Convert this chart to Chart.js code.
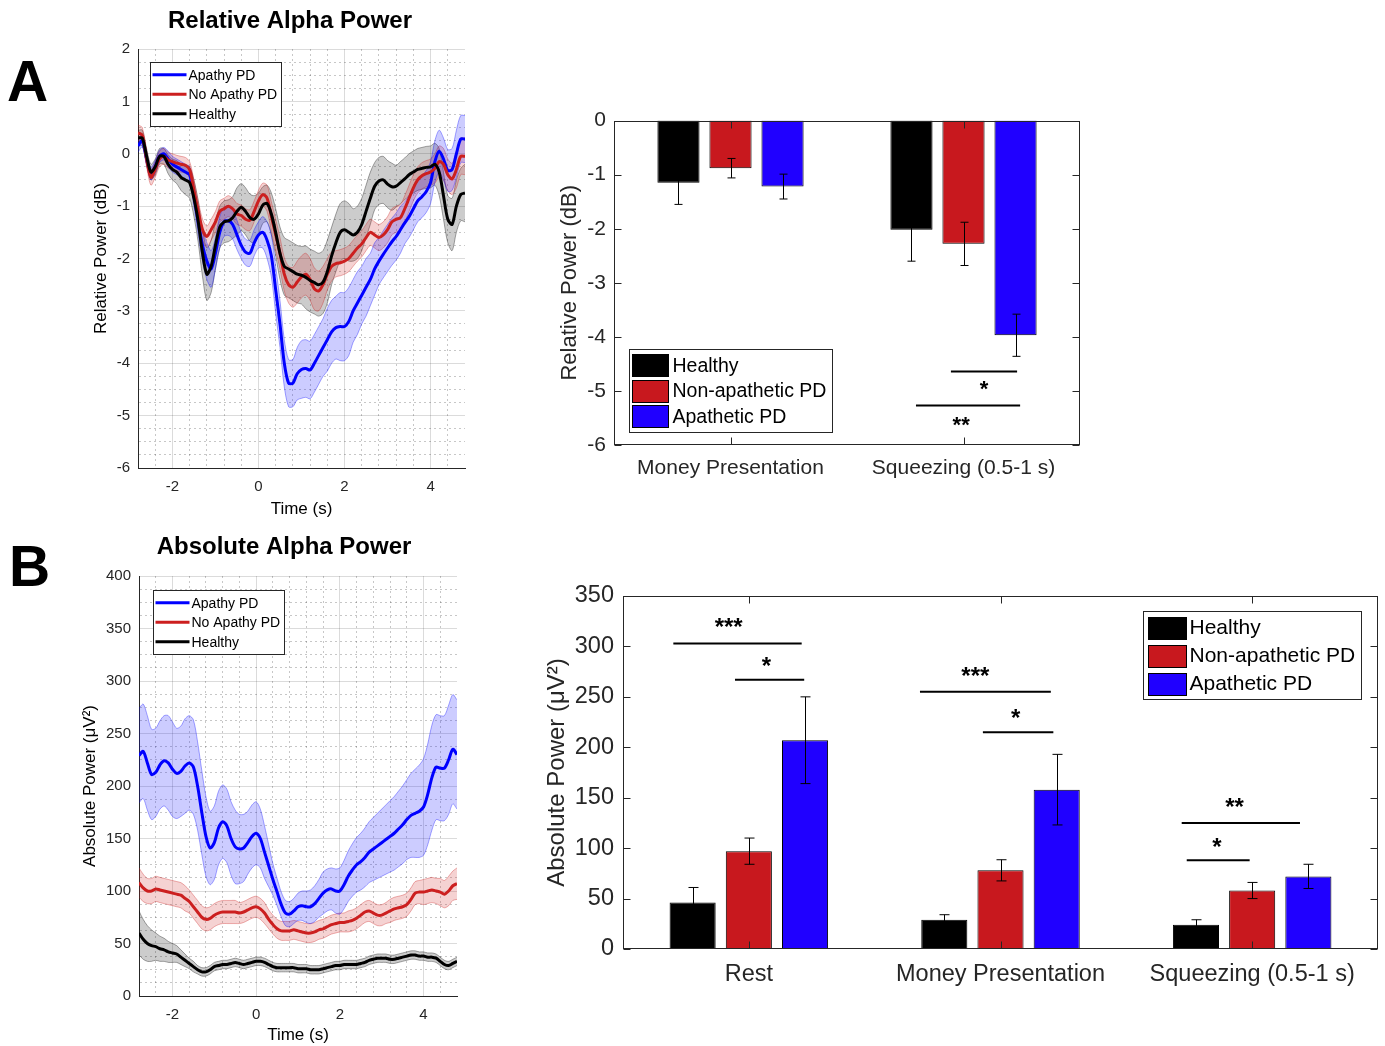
<!DOCTYPE html>
<html><head><meta charset="utf-8">
<script src="https://cdn.jsdelivr.net/npm/chart.js@4.4.1/dist/chart.umd.min.js"></script>
<style>
body{margin:0;background:#fff;width:1385px;height:1046px;position:relative;overflow:hidden;font-family:"Liberation Sans",Arial,sans-serif}
.c{position:absolute}
.lbl{position:absolute;font-weight:bold;font-size:57px;line-height:1;color:#000;font-family:"Liberation Sans",Arial,sans-serif}
</style></head><body>
<div class="lbl" style="left:7px;top:53px">A</div>
<div class="lbl" style="left:9px;top:538px">B</div>
<div class="c" style="left:0;top:0;width:580px;height:530px"><canvas id="aLeft"></canvas></div>
<div class="c" style="left:540px;top:100px;width:560px;height:390px"><canvas id="aRight"></canvas></div>
<div class="c" style="left:0;top:526px;width:568px;height:520px"><canvas id="bLeft"></canvas></div>
<div class="c" style="left:520px;top:570px;width:865px;height:476px"><canvas id="bRight"></canvas></div>
<script>
// ================= DATA =================
const times = [-2.8,-2.7,-2.6,-2.5,-2.4,-2.3,-2.2,-2.1,-2.0,-1.9,-1.8,-1.7,-1.6,-1.5,-1.4,-1.3,-1.2,-1.1,-1.0,-0.9,-0.8,-0.7,-0.6,-0.5,-0.4,-0.3,-0.2,-0.1,0,0.1,0.2,0.3,0.4,0.5,0.6,0.7,0.8,0.9,1.0,1.1,1.2,1.3,1.4,1.5,1.6,1.7,1.8,1.9,2.0,2.1,2.2,2.3,2.4,2.5,2.6,2.7,2.8,2.9,3.0,3.1,3.2,3.3,3.4,3.5,3.6,3.7,3.8,3.9,4.0,4.1,4.2,4.3,4.4,4.5,4.6,4.7,4.8];
const lineSeriesNames = ['Apathy PD','No Apathy PD','Healthy'];
const timeTickLabels = [-2,0,2,4];
const relPowerTickLabels = [-6,-5,-4,-3,-2,-1,0,1,2];
const absPowerTickLabels = [0,50,100,150,200,250,300,350,400];

// Relative alpha power (dB), mean and SEM
const relApathy = [0.15,0.25,-0.1,-0.38,-0.25,-0.05,0.0,-0.1,-0.2,-0.25,-0.3,-0.35,-0.4,
  -0.8,-1.3,-1.75,-2.05,-2.2,-1.9,-1.5,-1.3,-1.28,-1.35,-1.55,
  -1.75,-1.88,-1.9,-1.7,-1.55,-1.5,-1.65,-1.95,
  -2.6,-3.25,-4.0,-4.38,-4.38,-4.2,-4.12,-4.1,-4.13,-4.0,-3.85,-3.7,
  -3.55,-3.4,-3.32,-3.3,-3.3,-3.2,-3.0,-2.85,-2.7,-2.55,-2.4,
  -2.2,-2.05,-1.92,-1.8,-1.68,-1.58,-1.45,-1.32,-1.2,-1.05,-0.9,
  -0.82,-0.72,-0.55,-0.15,0.05,-0.1,-0.32,-0.3,0.0,0.28,0.28];
const relApathySem = [0.12,0.12,0.12,0.12,0.12,0.12,0.12,0.15,0.15,0.15,0.15,0.15,0.15,
  0.2,0.25,0.3,0.35,0.35,0.3,0.3,0.28,0.28,0.28,0.28,
  0.25,0.25,0.25,0.25,0.25,0.3,0.35,0.4,
  0.45,0.45,0.45,0.45,0.45,0.5,0.55,0.55,0.55,0.55,0.55,0.55,
  0.6,0.6,0.6,0.65,0.65,0.65,0.6,0.6,0.55,0.55,0.5,
  0.5,0.45,0.45,0.45,0.45,0.45,0.45,0.4,0.4,0.4,0.4,
  0.4,0.4,0.4,0.4,0.4,0.4,0.4,0.4,0.45,0.45,0.45];
const relNoApathy = [0.4,0.35,-0.1,-0.45,-0.3,-0.1,-0.05,-0.12,-0.15,-0.18,-0.2,-0.22,-0.3,
  -0.7,-1.1,-1.45,-1.58,-1.45,-1.3,-1.1,-1.05,-1.0,-1.05,-1.15,
  -1.18,-1.25,-1.27,-1.1,-0.9,-0.78,-0.85,-1.2,
  -1.55,-1.9,-2.3,-2.5,-2.55,-2.45,-2.35,-2.3,-2.4,-2.58,-2.62,-2.5,
  -2.3,-2.15,-2.1,-2.08,-2.05,-2.0,-1.9,-1.8,-1.72,-1.6,-1.5,
  -1.55,-1.6,-1.55,-1.45,-1.3,-1.25,-1.22,-1.05,-0.85,-0.65,-0.5,
  -0.42,-0.38,-0.35,-0.28,-0.15,-0.2,-0.4,-0.48,-0.3,-0.05,-0.05];
const relNoApathySem = [0.15,0.15,0.15,0.15,0.15,0.15,0.15,0.15,0.15,0.15,0.15,0.15,0.15,
  0.2,0.2,0.2,0.2,0.2,0.2,0.2,0.2,0.2,0.2,0.2,
  0.2,0.2,0.2,0.2,0.2,0.22,0.25,0.28,
  0.3,0.3,0.32,0.35,0.38,0.4,0.4,0.4,0.4,0.4,0.38,0.35,
  0.3,0.28,0.25,0.25,0.25,0.25,0.25,0.25,0.25,0.25,0.25,
  0.25,0.25,0.25,0.25,0.25,0.25,0.25,0.25,0.25,0.25,0.25,
  0.25,0.25,0.25,0.28,0.3,0.3,0.3,0.3,0.35,0.35,0.35];
const relHealthy = [0.3,0.3,-0.05,-0.35,-0.25,-0.05,-0.05,-0.2,-0.3,-0.35,-0.45,-0.5,-0.55,
  -0.85,-1.3,-1.9,-2.3,-2.15,-1.75,-1.4,-1.3,-1.28,-1.22,-1.1,
  -1.02,-1.1,-1.22,-1.25,-1.15,-0.98,-0.95,-1.15,
  -1.5,-1.9,-2.15,-2.2,-2.25,-2.3,-2.32,-2.36,-2.42,-2.46,-2.5,-2.45,
  -2.25,-1.95,-1.7,-1.5,-1.45,-1.5,-1.55,-1.5,-1.35,-1.1,-0.85,
  -0.62,-0.52,-0.5,-0.58,-0.63,-0.62,-0.55,-0.48,-0.4,-0.35,-0.3,
  -0.28,-0.26,-0.25,-0.2,-0.35,-0.8,-1.25,-1.35,-1.0,-0.78,-0.75];
const relHealthySem = [0.15,0.15,0.15,0.15,0.15,0.15,0.15,0.18,0.2,0.22,0.25,0.28,0.3,
  0.35,0.4,0.45,0.5,0.5,0.45,0.4,0.4,0.4,0.4,0.45,
  0.45,0.45,0.45,0.45,0.4,0.35,0.35,0.4,
  0.45,0.5,0.55,0.55,0.55,0.55,0.55,0.6,0.6,0.6,0.6,0.6,
  0.6,0.55,0.55,0.55,0.55,0.55,0.5,0.5,0.5,0.5,0.5,
  0.45,0.45,0.45,0.45,0.45,0.4,0.4,0.4,0.4,0.4,0.4,
  0.4,0.4,0.4,0.4,0.45,0.45,0.45,0.5,0.5,0.5,0.55];

// Absolute alpha power (uV^2), mean and SEM
const absApathy = [229,233,222,211,213,220,224,222,216,212,214,219,222,
  218,200,175,152,141,146,160,166,162,150,142,
  140,141,146,152,155,150,137,124,
  111,99,87,79,78,81,85,86,85,85,88,93,
  98,101,102,100,100,106,114,120,125,128,132,
  137,140,143,146,149,152,155,159,163,168,172,
  174,176,180,192,208,218,217,217,225,235,230];
const absApathySem = [45,45,45,43,42,42,43,45,45,43,43,45,45,
  45,42,40,38,35,35,35,35,35,35,35,
  33,32,30,30,30,28,25,20,
  15,13,12,12,12,12,13,14,15,16,17,18,
  20,20,20,21,22,23,24,25,26,27,28,
  29,30,31,32,33,34,35,36,37,38,40,
  42,44,46,48,50,50,50,50,52,52,52];
const absNoApathy = [108,103,100,100,102,101,100,99,98,97,96,93,90,
  85,80,75,73,74,77,79,80,80,80,80,
  79,80,82,84,85,83,79,73,
  68,64,62,62,62,63,62,61,60,60,61,63,
  64,66,68,69,70,70,71,72,74,77,80,
  81,79,77,77,79,81,83,84,85,87,92,
  98,99,99,100,101,100,99,97,100,105,107];
const absNoApathySem = [14,13,12,12,12,12,12,12,12,12,12,12,11,
  11,11,11,11,11,11,11,11,11,11,11,
  10,10,10,10,10,10,10,9,
  9,9,9,9,9,9,9,9,9,9,9,9,
  9,9,9,9,9,9,10,10,10,10,10,
  10,10,10,10,10,11,11,11,11,11,11,
  11,11,12,12,12,12,13,13,14,14,15];
const absHealthy = [60,54,50,48,47,45,44,42,41,40,37,34,31,
  28,25,23,23,25,28,29,30,30,31,32,
  31,30,31,32,33,33,32,30,
  28,27,27,27,27,27,26,26,26,25,25,25,
  26,27,28,29,29,30,30,30,30,31,32,
  34,35,36,36,36,35,35,36,37,38,39,
  39,38,38,37,37,36,33,30,29,31,33];
const absHealthySem = [21,19,17,15,13,12,11,10,9,8,7,6,5,
  5,4,4,4,4,4,4,4,4,4,4,
  4,4,4,4,4,4,4,4,
  4,4,4,4,4,4,4,4,4,4,4,4,
  4,4,4,4,4,4,4,4,4,4,4,
  4,4,4,4,4,4,4,4,4,4,4,
  4,4,4,4,4,4,4,4,4,4,4];

// Bar panels
const barSeriesNames = ['Healthy','Non-apathetic PD','Apathetic PD'];
const relCategories = ['Money Presentation','Squeezing (0.5-1 s)'];
const relBarHealthy = [-1.15,-2.02];
const relBarNonApathetic = [-0.88,-2.28];
const relBarApathetic = [-1.22,-3.97];
const relErrHealthy = [0.4,0.58];
const relErrNonApathetic = [0.18,0.4];
const relErrApathetic = [0.23,0.39];
const relSignificance = [
  {x1:0.946,x2:1.23,y:-4.64,label:'*',tx:1.088,ty:-4.95},
  {x1:0.796,x2:1.243,y:-5.27,label:'**',tx:0.99,ty:-5.6}
];
const absCategories = ['Rest','Money Presentation','Squeezing (0.5-1 s)'];
const absBarHealthy = [46,29,24];
const absBarNonApathetic = [97,78,58];
const absBarApathetic = [207,158,72];
const absErrHealthy = [15,5,5];
const absErrNonApathetic = [13,10.5,8];
const absErrApathetic = [43,35,12];
const absSignificance = [
  {x1:-0.30,x2:0.21,y:303,label:'***',tx:-0.08,ty:320},
  {x1:-0.055,x2:0.22,y:267,label:'*',tx:0.07,ty:282},
  {x1:0.68,x2:1.2,y:255,label:'***',tx:0.9,ty:272},
  {x1:0.93,x2:1.21,y:215,label:'*',tx:1.06,ty:230},
  {x1:1.72,x2:2.19,y:125,label:'**',tx:1.93,ty:142},
  {x1:1.74,x2:1.99,y:88,label:'*',tx:1.86,ty:102}
];

// ================= STYLE =================
const FONT = '"Liberation Sans", Arial, sans-serif';
const AX = '#262626';
const LINE_COLORS = ['#0000ff','#cc1f1f','#000000'];
const BAND_FILL = ['rgba(0,0,255,0.2)','rgba(204,31,31,0.2)','rgba(0,0,0,0.2)'];
const BAND_EDGE = ['rgba(0,0,255,0.35)','rgba(204,31,31,0.35)','rgba(0,0,0,0.35)'];
const BAR_COLORS = ['#000000','#c8181e','#2000ff'];

const panelTitle = {
  id:'panelTitle',
  afterDraw(chart, args, o){
    const {ctx, chartArea:a} = chart;
    ctx.save();
    ctx.font = 'bold 24px ' + FONT; ctx.fillStyle = '#000';
    ctx.textAlign = 'center'; ctx.textBaseline = 'middle';
    ctx.fillText(o.text, (a.left + a.right)/2 + o.dx, o.y);
    ctx.restore();
  }
};

const lineLegend = {
  id:'lineLegend',
  afterDraw(chart, args, o){
    const {ctx, chartArea:a} = chart;
    ctx.save();
    ctx.font = o.fontSize + 'px ' + FONT;
    const tw = Math.max(...o.items.map(i=>ctx.measureText(i.label).width));
    const x0 = Math.round(a.left + o.dx) + 0.5, y0 = Math.round(a.top + o.dy) + 0.5;
    const w = Math.round(o.textX + tw + 4), h = Math.round(o.rowH*o.items.length + o.padY*2);
    ctx.fillStyle = '#fff'; ctx.fillRect(x0,y0,w,h);
    ctx.strokeStyle = AX; ctx.lineWidth = 1; ctx.strokeRect(x0,y0,w,h);
    o.items.forEach((it,i)=>{
      const y = y0 + o.padY + o.rowH*(i+0.5);
      ctx.strokeStyle = it.color; ctx.lineWidth = 3;
      ctx.beginPath(); ctx.moveTo(x0+2,y); ctx.lineTo(x0+o.lineLen,y); ctx.stroke();
      ctx.fillStyle = '#000'; ctx.textBaseline = 'middle'; ctx.textAlign = 'left';
      ctx.fillText(it.label, x0 + o.textX, y+1);
    });
    ctx.restore();
  }
};

function lineChart(id, o){
  const datasets = [];
  o.series.forEach((s,k)=>{
    const lo = s.mean.map((m,i)=> m - s.sem[i]);
    const hi = s.mean.map((m,i)=> m + s.sem[i]);
    datasets.push({label:s.label+'-', data:lo, borderColor:BAND_EDGE[k], borderWidth:1, pointRadius:0, fill:false, tension:0.3, order:10+k*2});
    datasets.push({label:s.label+'+', data:hi, borderColor:BAND_EDGE[k], borderWidth:1, pointRadius:0, backgroundColor:BAND_FILL[k], fill:'-1', tension:0.3, order:10+k*2});
  });
  o.series.forEach((s,k)=>{
    datasets.push({label:s.label, data:s.mean, borderColor:LINE_COLORS[k], borderWidth:3, pointRadius:0, fill:false, tension:0.3, order:3-k});
  });
  const isMajorX = v => timeTickLabels.some(t=>Math.abs(t-v)<1e-9);
  const isMajorY = v => o.yTicks.some(t=>Math.abs(t-v)<1e-9);
  const gridColor = maj => maj ? 'rgba(0,0,0,0.14)' : 'rgba(0,0,0,0.22)';
  new Chart(document.getElementById(id), {
    type:'line',
    data:{labels:times, datasets},
    options:{
      responsive:true, maintainAspectRatio:false, animation:false, events:[],
      layout:{padding:o.padding},
      plugins:{
        legend:{display:false}, tooltip:{enabled:false}, title:{display:false},
        panelTitle:{text:o.title, dx:o.titleDx, y:o.titleY},
        lineLegend:{items:o.series.map((s,k)=>({label:s.label,color:LINE_COLORS[k]})), fontSize:14, dx:o.legDx, dy:o.legDy, rowH:19.5, padY:2.5, lineLen:36, textX:38}
      },
      scales:{
        x:{type:'linear', min:-2.8, max:4.8,
          afterBuildTicks:s=>{ const t=[]; for(let i=-6;i<=11;i++) t.push({value:Math.round(i*4)/10}); s.ticks=t; },
          ticks:{autoSkip:false, maxRotation:0, padding:10, color:AX, font:{family:FONT,size:15},
            callback:v=> isMajorX(v) ? String(Math.round(v)) : ''},
          grid:{drawTicks:false, color:c=>gridColor(c.tick ? isMajorX(c.tick.value) : true)},
          border:{display:true, color:AX, width:1, dash:c=> (c.tick && !isMajorX(c.tick.value)) ? [2,3] : []},
          title:{display:true, text:'Time (s)', color:'#000', font:{family:FONT,size:17}, padding:{top:0,bottom:o.xTitleBottom}},
          afterFit:s=>{ s.height = o.xHeight; }
        },
        y:{type:'linear', min:o.yMin, max:o.yMax,
          afterBuildTicks:s=>{ const t=[]; for(let v=o.yMin; v<=o.yMax+1e-9; v+=o.yMinor) t.push({value:v}); s.ticks=t; },
          ticks:{autoSkip:false, padding:8, color:AX, font:{family:FONT,size:15},
            callback:v=> isMajorY(v) ? String(v) : ''},
          grid:{drawTicks:false, color:c=>gridColor(c.tick ? isMajorY(c.tick.value) : true)},
          border:{display:true, color:AX, width:1, dash:c=> (c.tick && !isMajorY(c.tick.value)) ? [2,3] : []},
          title:{display:true, text:o.yTitle, color:'#000', font:{family:FONT,size:17}, padding:{top:o.yTitleTop,bottom:0}},
          afterFit:s=>{ s.width = o.yWidth; }
        }
      }
    },
    plugins:[panelTitle, lineLegend]
  });
}

const barExtras = {
  id:'barExtras',
  afterDatasetsDraw(chart, args, o){
    const {ctx, chartArea:a, scales:{x,y}} = chart;
    ctx.save();
    // error bars
    chart.data.datasets.forEach((ds,di)=>{
      chart.getDatasetMeta(di).data.forEach((bar,i)=>{
        const v = ds.data[i], e = ds.errors[i];
        const yt = y.getPixelForValue(v+e), yb = y.getPixelForValue(v-e);
        const bx = Math.round(bar.x)+0.5;
        ctx.strokeStyle = '#000'; ctx.lineWidth = 1;
        ctx.beginPath();
        ctx.moveTo(bx,yt); ctx.lineTo(bx,yb);
        ctx.moveTo(bx-o.cap,yt); ctx.lineTo(bx+o.cap,yt);
        ctx.moveTo(bx-o.cap,yb); ctx.lineTo(bx+o.cap,yb);
        ctx.stroke();
      });
    });
    // box + inward ticks
    ctx.strokeStyle = AX; ctx.lineWidth = 1;
    const L = Math.round(a.left)+0.5, R = Math.round(a.right)-0.5, T = Math.round(a.top)+0.5, B = Math.round(a.bottom)-0.5;
    ctx.strokeRect(L,T,R-L,B-T);
    ctx.beginPath();
    y.ticks.forEach(t=>{ const py = Math.round(y.getPixelForValue(t.value))+0.5;
      ctx.moveTo(L,py); ctx.lineTo(L+o.tick,py); ctx.moveTo(R,py); ctx.lineTo(R-o.tick,py); });
    x.ticks.forEach(t=>{ const px = Math.round(x.getPixelForValue(t.value))+0.5;
      ctx.moveTo(px,B); ctx.lineTo(px,B-o.tick); ctx.moveTo(px,T); ctx.lineTo(px,T+o.tick); });
    ctx.stroke();
    // significance markers
    ctx.strokeStyle = '#000'; ctx.lineWidth = 2; ctx.fillStyle = '#000';
    ctx.font = 'bold ' + o.starSize + 'px ' + FONT; ctx.textAlign = 'center'; ctx.textBaseline = 'middle';
    o.sig.forEach(s=>{
      const py = y.getPixelForValue(s.y);
      ctx.beginPath(); ctx.moveTo(x.getPixelForValue(s.x1),py); ctx.lineTo(x.getPixelForValue(s.x2),py); ctx.stroke();
      ctx.fillText(s.label, x.getPixelForValue(s.tx), y.getPixelForValue(s.ty) + o.starSize*0.1);
    });
    // legend
    const lg = o.legend;
    ctx.font = lg.fontSize + 'px ' + lg.font;
    const tw = Math.max(...chart.data.datasets.map(d=>ctx.measureText(d.label).width));
    const w = Math.round(lg.textX + tw + 6), h = Math.round(lg.rowH*3 + lg.padY*2);
    const x0 = Math.round(lg.anchor==='bl' ? a.left + lg.dx : a.right - lg.dx - w) + 0.5;
    const y0 = Math.round(lg.anchor==='bl' ? a.bottom - lg.dy - h : a.top + lg.dy) + 0.5;
    ctx.fillStyle = '#fff'; ctx.fillRect(x0,y0,w,h);
    ctx.strokeStyle = AX; ctx.lineWidth = 1; ctx.strokeRect(x0,y0,w,h);
    chart.data.datasets.forEach((d,i)=>{
      const cy = y0 + lg.padY + lg.rowH*(i+0.5);
      ctx.fillStyle = d.backgroundColor;
      ctx.fillRect(x0+lg.swX, Math.round(cy-lg.swH/2), lg.swW, lg.swH);
      ctx.strokeStyle = '#000'; ctx.strokeRect(x0+lg.swX, Math.round(cy-lg.swH/2)+0.5, lg.swW, lg.swH);
      ctx.fillStyle = '#000'; ctx.textAlign = 'left'; ctx.textBaseline = 'middle';
      ctx.fillText(d.label, x0 + lg.textX, cy+1);
    });
    ctx.restore();
  }
};

function barChart(id, o){
  const datasets = o.values.map((vals,k)=>({
    label:barSeriesNames[k], data:vals, errors:o.errors[k],
    backgroundColor:BAR_COLORS[k], borderColor:'#000', borderWidth:1,
    categoryPercentage:0.67, barPercentage:o.barPct
  }));
  new Chart(document.getElementById(id), {
    type:'bar',
    data:{labels:o.categories, datasets},
    options:{
      responsive:true, maintainAspectRatio:false, animation:false, events:[],
      layout:{padding:o.padding},
      plugins:{legend:{display:false}, tooltip:{enabled:false}, title:{display:false},
        barExtras:{cap:o.cap, tick:7, sig:o.sig, starSize:o.starSize, legend:o.legend}},
      scales:{
        x:{grid:{display:false, drawTicks:false}, border:{display:false},
          ticks:{maxRotation:0, autoSkip:false, padding:o.xPad, color:AX, font:{family:FONT, size:o.tickSize}},
          afterFit:s=>{ s.height = o.xHeight; }},
        y:{min:o.yMin, max:o.yMax, grid:{display:false, drawTicks:false}, border:{display:false},
          afterBuildTicks:s=>{ s.ticks = o.yTicks.map(v=>({value:v})); },
          ticks:{padding:o.yPad, color:AX, font:{family:FONT, size:o.tickSize}},
          title:{display:true, text:o.yTitle, color:AX, font:{family:FONT, size:o.yTitleSize}, padding:{top:o.yTitleTop,bottom:0}},
          afterFit:s=>{ s.width = o.yWidth; }}
      }
    },
    plugins:[barExtras]
  });
}

// ================= CHARTS =================
lineChart('aLeft', {
  title:'Relative Alpha Power', titleDx:-11.5, titleY:21,
  padding:{left:85,right:115,top:49,bottom:0},
  series:[{label:lineSeriesNames[0],mean:relApathy,sem:relApathySem},
          {label:lineSeriesNames[1],mean:relNoApathy,sem:relNoApathySem},
          {label:lineSeriesNames[2],mean:relHealthy,sem:relHealthySem}],
  yMin:-6, yMax:2, yMinor:0.25, yTicks:relPowerTickLabels,
  yTitle:'Relative Power (dB)', yTitleTop:6, yWidth:53, xHeight:62, xTitleBottom:10,
  legDx:12, legDy:13
});
lineChart('bLeft', {
  title:'Absolute Alpha Power', titleDx:-14, titleY:21,
  padding:{left:78,right:111,top:50,bottom:0},
  series:[{label:lineSeriesNames[0],mean:absApathy,sem:absApathySem},
          {label:lineSeriesNames[1],mean:absNoApathy,sem:absNoApathySem},
          {label:lineSeriesNames[2],mean:absHealthy,sem:absHealthySem}],
  yMin:0, yMax:400, yMinor:12.5, yTicks:absPowerTickLabels,
  yTitle:'Absolute Power (μV²)', yTitleTop:2, yWidth:61, xHeight:50, xTitleBottom:0,
  legDx:14, legDy:14
});
barChart('aRight', {
  categories:relCategories,
  values:[relBarHealthy, relBarNonApathetic, relBarApathetic],
  errors:[relErrHealthy, relErrNonApathetic, relErrApathetic],
  barPct:0.81, padding:{left:10,right:20,top:18,bottom:0},
  yMin:-6, yMax:0, yTicks:[-6,-5,-4,-3,-2,-1,0],
  yTitle:'Relative Power (dB)', yTitleSize:22, yTitleTop:7, yWidth:64, yPad:8,
  tickSize:21, xPad:11, xHeight:45, cap:4,
  sig:relSignificance, starSize:22,
  legend:{anchor:'bl', dx:15, dy:13, font:FONT, fontSize:19.5, rowH:25.5, padY:3, swX:3, swW:36, swH:22, textX:43}
});
barChart('bRight', {
  categories:absCategories,
  values:[absBarHealthy, absBarNonApathetic, absBarApathetic],
  errors:[absErrHealthy, absErrNonApathetic, absErrApathetic],
  barPct:0.82, padding:{left:20,right:7,top:26,bottom:47},
  yMin:0, yMax:350, yTicks:[0,50,100,150,200,250,300,350],
  yTitle:'Absolute Power (μV²)', yTitleSize:24, yTitleTop:3, yWidth:83, yPad:9,
  tickSize:23.5, xPad:11, xHeight:50, cap:5,
  sig:absSignificance, starSize:24,
  legend:{anchor:'tr', dx:17, dy:15, font:FONT, fontSize:21, rowH:28, padY:2, swX:5, swW:38, swH:22, textX:46}
});
</script>
</body></html>
